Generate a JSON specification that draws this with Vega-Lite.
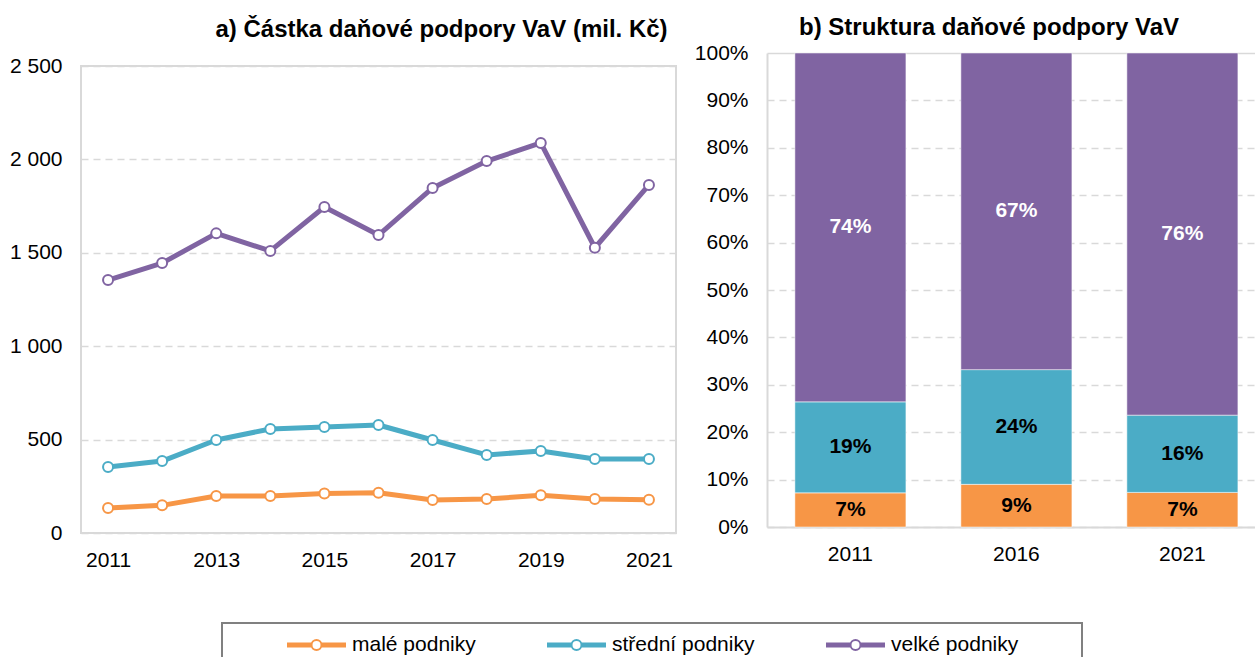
{
  "$schema": "https://vega.github.io/schema/vega-lite/v6.json",
  "padding": {"left": 8, "top": 16, "right": 0, "bottom": 0},
  "datasets": {
    "lines": [
      {"year": 2011, "series": "malé podniky", "value": 134},
      {"year": 2012, "series": "malé podniky", "value": 148},
      {"year": 2013, "series": "malé podniky", "value": 198},
      {"year": 2014, "series": "malé podniky", "value": 198},
      {"year": 2015, "series": "malé podniky", "value": 212},
      {"year": 2016, "series": "malé podniky", "value": 216},
      {"year": 2017, "series": "malé podniky", "value": 177},
      {"year": 2018, "series": "malé podniky", "value": 182},
      {"year": 2019, "series": "malé podniky", "value": 202},
      {"year": 2020, "series": "malé podniky", "value": 182},
      {"year": 2021, "series": "malé podniky", "value": 178},
      {"year": 2011, "series": "střední podniky", "value": 353},
      {"year": 2012, "series": "střední podniky", "value": 385},
      {"year": 2013, "series": "střední podniky", "value": 498},
      {"year": 2014, "series": "střední podniky", "value": 557},
      {"year": 2015, "series": "střední podniky", "value": 567},
      {"year": 2016, "series": "střední podniky", "value": 578},
      {"year": 2017, "series": "střední podniky", "value": 498},
      {"year": 2018, "series": "střední podniky", "value": 418},
      {"year": 2019, "series": "střední podniky", "value": 439},
      {"year": 2020, "series": "střední podniky", "value": 396},
      {"year": 2021, "series": "střední podniky", "value": 396},
      {"year": 2011, "series": "velké podniky", "value": 1354},
      {"year": 2012, "series": "velké podniky", "value": 1445},
      {"year": 2013, "series": "velké podniky", "value": 1604},
      {"year": 2014, "series": "velké podniky", "value": 1510},
      {"year": 2015, "series": "velké podniky", "value": 1745},
      {"year": 2016, "series": "velké podniky", "value": 1595},
      {"year": 2017, "series": "velké podniky", "value": 1847},
      {"year": 2018, "series": "velké podniky", "value": 1991},
      {"year": 2019, "series": "velké podniky", "value": 2088},
      {"year": 2020, "series": "velké podniky", "value": 1527},
      {"year": 2021, "series": "velké podniky", "value": 1863}
    ],
    "shares": [
      {"year": "2011", "series": "malé podniky", "share": 0.072},
      {"year": "2011", "series": "střední podniky", "share": 0.192},
      {"year": "2011", "series": "velké podniky", "share": 0.736},
      {"year": "2016", "series": "malé podniky", "share": 0.090},
      {"year": "2016", "series": "střední podniky", "share": 0.242},
      {"year": "2016", "series": "velké podniky", "share": 0.668},
      {"year": "2021", "series": "malé podniky", "share": 0.073},
      {"year": "2021", "series": "střední podniky", "share": 0.163},
      {"year": "2021", "series": "velké podniky", "share": 0.764}
    ],
    "keys": []
  },
  "config": {
    "font": "Liberation Sans",
    "view": {"stroke": null},
    "axis": {
      "labelFont": "Liberation Sans",
      "labelFontSize": 21,
      "labelColor": "#000000",
      "ticks": false,
      "domain": false,
      "title": null,
      "gridColor": "#d9d9d9",
      "gridWidth": 1.5
    },
    "title": {"font": "Liberation Sans", "fontSize": 24, "fontWeight": "bold", "color": "#000000"}
  },
  "resolve": {"scale": {"color": "independent"}, "legend": {"color": "independent"}},
  "spacing": 51,
  "vconcat": [
    {
      "spacing": 17,
      "hconcat": [
        {
          "spacing": 0,
          "vconcat": [
            {
              "width": 595,
              "height": 1,
              "title": {"text": "a) Částka daňové podpory VaV (mil. Kč)", "dx": 63, "offset": 11},
              "data": {"values": []},
              "mark": "point",
              "view": {"stroke": null}
            },
            {
              "width": 595,
              "height": 467,
              "view": {"stroke": "#d9d9d9", "strokeWidth": 2},
              "data": {"name": "lines"},
              "encoding": {
                "x": {
                  "field": "year", "type": "ordinal",
                  "scale": {"type": "point", "padding": 0.5},
                  "axis": {"values": [2011, 2013, 2015, 2017, 2019, 2021], "labelAngle": 0, "labelPadding": 16, "grid": false}
                },
                "y": {
                  "field": "value", "type": "quantitative",
                  "scale": {"domain": [0, 2500], "nice": false},
                  "axis": {"values": [0, 500, 1000, 1500, 2000, 2500], "labelExpr": "replace(format(datum.value, ','), ',', ' ')", "labelPadding": 19, "grid": true, "gridDash": [7, 5]}
                },
                "color": {
                  "field": "series", "type": "nominal",
                  "scale": {"domain": ["malé podniky", "střední podniky", "velké podniky"], "range": ["#F79646", "#4BACC6", "#8064A2"]},
                  "legend": null
                }
              },
              "layer": [
                {"mark": {"type": "line", "strokeWidth": 5, "strokeJoin": "round"}},
                {"mark": {"type": "point", "filled": false, "fill": "white", "size": 100, "strokeWidth": 2, "opacity": 1}}
              ]
            }
          ]
        },
        {
          "width": 488,
          "height": 474,
          "title": {"text": "b) Struktura daňové podpory VaV", "dx": -22, "offset": 2},
          "view": {"stroke": null},
          "data": {"name": "shares"},
          "encoding": {
            "x": {
              "field": "year", "type": "nominal",
              "scale": {"paddingInner": 0.331, "paddingOuter": 0.1355, "align": 0.62},
              "axis": {"labelAngle": 0, "labelPadding": 16, "domain": true, "domainColor": "#d9d9d9", "domainWidth": 2, "grid": false}
            },
            "y": {
              "field": "share", "type": "quantitative", "stack": "zero",
              "scale": {"domain": [0, 1], "nice": false},
              "axis": {
                "values": [0, 0.1, 0.2, 0.3, 0.4, 0.5, 0.6, 0.7, 0.8, 0.9, 1],
                "format": ".0%",
                "labelPadding": 19,
                "domain": true, "domainColor": "#d9d9d9", "domainWidth": 2,
                "grid": true,
                "gridDash": {"condition": {"test": "datum.value >= 0.999", "value": []}, "value": [7, 5]}
              }
            },
            "order": {"field": "series", "sort": "ascending"}
          },
          "layer": [
            {
              "mark": {"type": "bar", "stroke": "white", "strokeWidth": 0.5},
              "encoding": {
                "fill": {
                  "field": "series", "type": "nominal",
                  "scale": {"domain": ["malé podniky", "střední podniky", "velké podniky"], "range": ["#F79646", "#4BACC6", "#8064A2"]},
                  "legend": null
                }
              }
            },
            {
              "mark": {"type": "text", "fontWeight": "bold", "fontSize": 21, "font": "Liberation Sans"},
              "encoding": {
                "y": {"field": "share", "type": "quantitative", "stack": "zero", "bandPosition": 0.5},
                "detail": {"field": "series"},
                "text": {"field": "share", "format": ".0%"},
                "color": {"condition": {"test": "datum.series === 'velké podniky'", "value": "white"}, "value": "black"}
              }
            }
          ]
        }
      ]
    },
    {
      "spacing": 0,
      "hconcat": [
        {"width": 140, "height": 20, "data": {"values": []}, "mark": "point", "view": {"stroke": null}},
        {
          "width": 860,
          "height": 40,
          "data": {"name": "keys"},
          "mark": {"type": "point", "filled": false, "fill": "white", "strokeWidth": 2, "opacity": 1},
          "view": {"stroke": "#808080", "strokeWidth": 2},
          "encoding": {
            "color": {
              "field": "series", "type": "nominal",
              "scale": {"domain": ["malé podniky", "střední podniky", "velké podniky"], "range": ["#F79646", "#4BACC6", "#8064A2"]},
              "legend": {
                "orient": "none",
                "legendX": 207,
                "legendY": 11,
                "direction": "horizontal",
                "title": null,
                "padding": 0,
                "symbolType": "M-1.1,-0.15H1.25V-0.05H-1.1Z M-1.1,0.05H1.25V0.15H-1.1Z M2.25,-0.15H4.6V-0.05H2.25Z M2.25,0.05H4.6V0.15H2.25Z M2.25,0A0.5,0.5,0,1,1,1.25,0A0.5,0.5,0,1,1,2.25,0Z",
                "symbolSize": 400,
                "symbolStrokeWidth": 2,
                "symbolFillColor": "white",
                "symbolOpacity": 1,
                "labelFont": "Liberation Sans",
                "labelFontSize": 21,
                "labelColor": "#000000",
                "labelOffset": 42,
                "columnPadding": 68,
                "encode": {
                  "symbols": {
                    "update": {
                      "fill": {"value": "white"},
                      "stroke": {"scale": "color", "field": "value"},
                      "strokeWidth": {"value": 2},
                      "opacity": {"value": 1}
                    }
                  }
                }
              }
            }
          }
        }
      ]
    }
  ]
}
